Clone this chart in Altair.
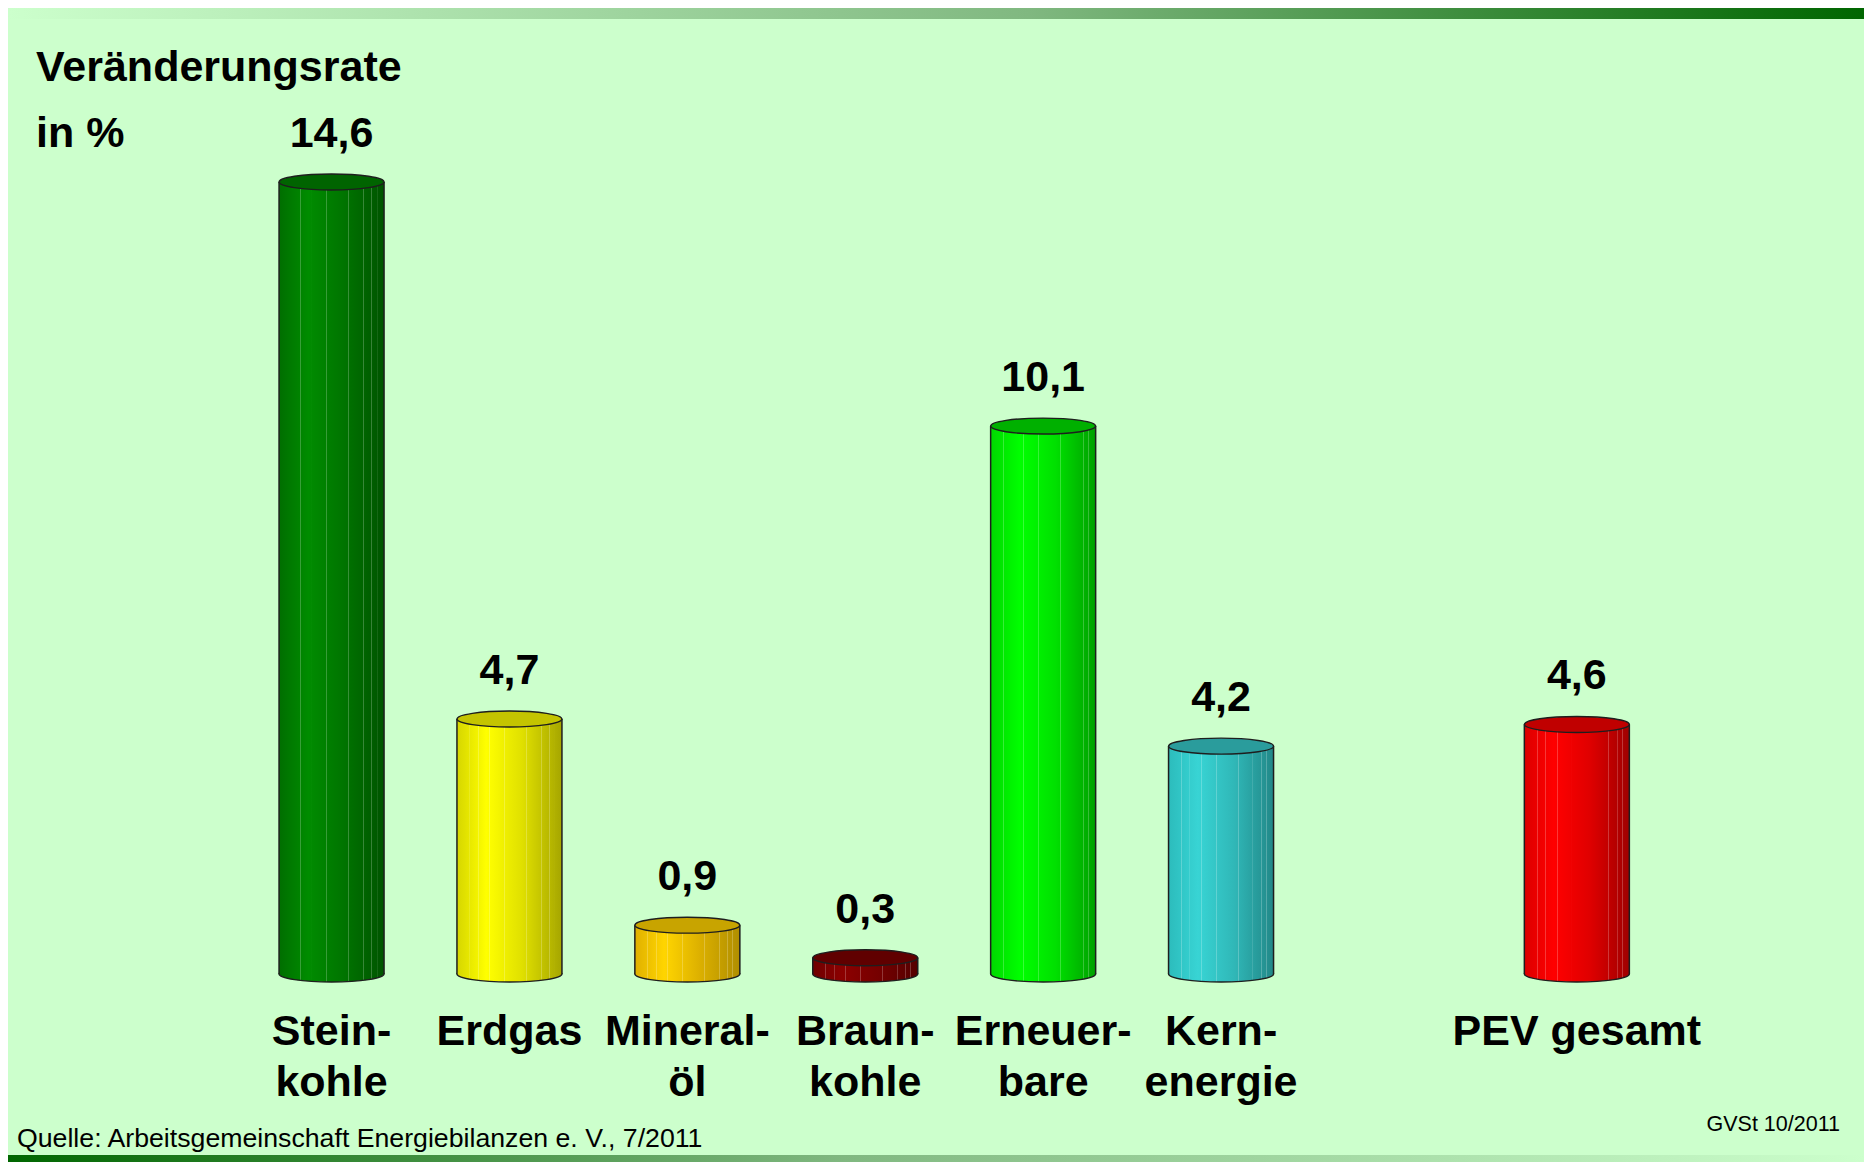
import altair as alt
import pandas as pd

# ---------------- data ----------------
categories = ["Steinkohle", "Erdgas", "Mineralöl", "Braunkohle", "Erneuerbare", "Kernenergie", "PEV gesamt"]
label_lines = ["Stein-\nkohle", "Erdgas", "Mineral-\nöl", "Braun-\nkohle", "Erneuer-\nbare", "Kern-\nenergie", "PEV gesamt"]
values = [14.6, 4.7, 0.9, 0.3, 10.1, 4.2, 4.6]
slot_order = ["Steinkohle", "Erdgas", "Mineralöl", "Braunkohle", "Erneuerbare", "Kernenergie", " ", "PEV gesamt"]
title_lines = ["Veränderungsrate", "in %"]
source_text = ["Quelle: Arbeitsgemeinschaft Energiebilanzen e. V., 7/2011"]
stamp_text = ["GVSt 10/2011"]

# ---------------- styles ----------------
ramp_colors = [
    ["#006e00", "#008c00", "#007400", "#005400"],
    ["#d6d600", "#ffff00", "#e0e000", "#a6a600"],
    ["#e0b000", "#ffd500", "#dcb000", "#b08e00"],
    ["#6e0000", "#8c0000", "#760000", "#540000"],
    ["#00d800", "#00ff00", "#00e000", "#00a000"],
    ["#2cbcbc", "#38d4d4", "#30b8b8", "#228888"],
    ["#dc0000", "#ff0000", "#e00000", "#a00000"],
]
top_colors = ["#006400", "#c4c400", "#c8a400", "#600000", "#00b000", "#2a9c9c", "#c00000"]
ramp_offsets = [0.0, 0.28, 0.62, 1.0]
streaks = [0.12, 0.2, 0.31, 0.45, 0.66, 0.8, 0.88, 0.93]

FONT = "Liberation Sans, Arial, sans-serif"
W, H = 1856, 1154
BW = 105
OUTLINE = "#1e1e1e"


def h2r(h):
    h = h.lstrip("#")
    return [int(h[i:i + 2], 16) for i in (0, 2, 4)]


def r2h(c):
    return "#" + "".join(f"{max(0, min(255, int(round(v)))):02x}" for v in c)


def ramp_at(cols, t):
    for k in range(len(ramp_offsets) - 1):
        a, b = ramp_offsets[k], ramp_offsets[k + 1]
        if a <= t <= b:
            f = (t - a) / (b - a)
            ca, cb = h2r(cols[k]), h2r(cols[k + 1])
            return [ca[j] + (cb[j] - ca[j]) * f for j in range(3)]
    return h2r(cols[-1])


def make_grad(cols):
    pts = [(o, r2h(h2r(c))) for o, c in zip(ramp_offsets, cols)]
    for s in streaks:
        base_a = ramp_at(cols, s - 0.001)
        base_b = ramp_at(cols, s + 0.008)
        light = [v + (255 - v) * 0.22 for v in ramp_at(cols, s + 0.003)]
        pts += [(s - 0.001, r2h(base_a)), (s, r2h(light)), (s + 0.007, r2h(light)), (s + 0.008, r2h(base_b))]
    pts.sort(key=lambda p: p[0])
    return alt.LinearGradient(
        gradient="linear", x1=0, x2=1, y1=0, y2=0,
        stops=[alt.GradientStop(color=c, offset=o) for o, c in pts],
    )


ELLIPSE = "M -1 0 A 1 0.152 0 1 0 1 0 A 1 0.152 0 1 0 -1 0 Z"

df = pd.DataFrame({
    "cat": categories,
    "label": label_lines,
    "value": values,
    "text": [f"{v:.1f}".replace(".", ",") for v in values],
    "zero": [0.0] * len(values),
})

x_scale = alt.Scale(domain=slot_order, range=[234.6, 1657.8], paddingInner=0, paddingOuter=0)
y_scale = alt.Scale(domain=[0, 16], range=[966, 98], nice=False, zero=False)

X = alt.X("cat:N", scale=x_scale, axis=None)
Yv = alt.Y("value:Q", scale=y_scale, axis=None)
Y0 = alt.Y("zero:Q", scale=y_scale, axis=None)

base = alt.Chart(df)
layers = []

# top / bottom gradient strips
strip_top = alt.LinearGradient(gradient="linear", x1=0, x2=1, y1=0, y2=0,
                               stops=[alt.GradientStop(color="#ccffcc", offset=0),
                                      alt.GradientStop(color="#80b880", offset=0.55),
                                      alt.GradientStop(color="#006600", offset=1)])
strip_bot = alt.LinearGradient(gradient="linear", x1=0, x2=1, y1=0, y2=0,
                               stops=[alt.GradientStop(color="#006600", offset=0),
                                      alt.GradientStop(color="#80b880", offset=0.45),
                                      alt.GradientStop(color="#ccffcc", offset=1)])
one = alt.Chart(alt.Data(values=[{"a": 1}]))
layers.append(one.mark_rect(fill=strip_top).encode(x=alt.value(0), x2=alt.value(W), y=alt.value(0), y2=alt.value(11)))
layers.append(one.mark_rect(fill=strip_bot).encode(x=alt.value(0), x2=alt.value(W), y=alt.value(H - 7), y2=alt.value(H)))

for i, cat in enumerate(categories):
    sub = base.transform_filter(alt.datum.cat == cat)
    grad = make_grad(ramp_colors[i])
    layers.append(sub.mark_point(shape=ELLIPSE, size=BW * BW, filled=True, fill=grad, stroke=OUTLINE,
                                 strokeWidth=1.4, opacity=1).encode(x=X, y=Y0))
    layers.append(sub.mark_bar(width=BW, fill=grad, strokeWidth=0).encode(x=X, y=Yv, y2="zero:Q"))
    for off in (-BW / 2, BW / 2):
        layers.append(sub.mark_rule(xOffset=off, color=OUTLINE, strokeWidth=1.5).encode(x=X, y=Yv, y2="zero:Q"))
    layers.append(sub.mark_point(shape=ELLIPSE, size=BW * BW, filled=True, fill=top_colors[i], stroke=OUTLINE,
                                 strokeWidth=1.4, opacity=1).encode(x=X, y=Yv))

# value labels
layers.append(base.mark_text(font=FONT, fontSize=43, fontWeight="bold", baseline="alphabetic", dy=-35,
                             color="black").encode(x=X, y=Yv, text="text:N"))
# category labels
layers.append(base.mark_text(font=FONT, fontSize=43, fontWeight="bold", baseline="alphabetic", dy=71,
                             lineBreak="\n", lineHeight=51, color="black").encode(x=X, y=Y0, text="label:N"))

# title
title_df = pd.DataFrame({"t": ["\n".join(title_lines)]})
layers.append(alt.Chart(title_df).mark_text(font=FONT, fontSize=43, fontWeight="bold", align="left",
                                            baseline="alphabetic", lineBreak="\n", lineHeight=66,
                                            color="black").encode(x=alt.value(28), y=alt.value(73), text="t:N"))
# source
layers.append(alt.Chart(pd.DataFrame({"t": source_text})).mark_text(font=FONT, fontSize=26.7, align="left",
                                                                    baseline="alphabetic", color="black")
              .encode(x=alt.value(9), y=alt.value(1139), text="t:N"))
# stamp
layers.append(alt.Chart(pd.DataFrame({"t": stamp_text})).mark_text(font=FONT, fontSize=21.5, align="right",
                                                                   baseline="alphabetic", color="black")
              .encode(x=alt.value(1832), y=alt.value(1123), text="t:N"))

chart = alt.layer(*layers).properties(
    width=W, height=H, padding=0, autosize="none", background="#ccffcc"
).configure_view(stroke=None)

chart.save("out.html", embed_options={"renderer": "svg", "actions": False})
